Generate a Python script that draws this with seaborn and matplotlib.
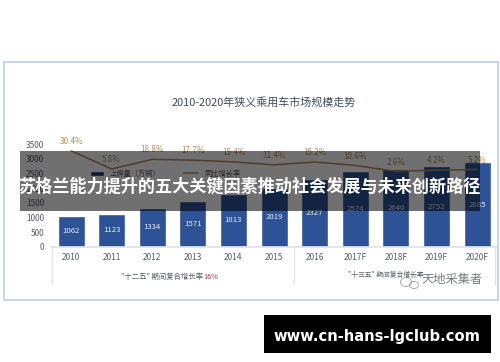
import matplotlib
matplotlib.use("Agg")
import matplotlib.pyplot as plt
from matplotlib.patches import Rectangle, Ellipse
from matplotlib.lines import Line2D
import numpy as np
import pandas as pd
import seaborn as sns

years = ["2010", "2011", "2012", "2013", "2014", "2015", "2016", "2017F", "2018F", "2019F", "2020F"]
volumes = [1062, 1123, 1334, 1571, 1813, 2019, 2327, 2574, 2640, 2752, 2885]
growth = [30.4, 5.8, 18.8, 17.7, 15.4, 11.4, 15.2, 10.6, 2.6, 4.2, 5.2]
y_ticks = [0, 500, 1000, 1500, 2000, 2500, 3000, 3500]

chart_title = "2010-2020年狭义乘用车市场规模走势"
overlay_title = "苏格兰能力提升的五大关键因素推动社会发展与未来创新路径"
site_url = "www.cn-hans-lgclub.com"
legend_labels = ["上牌量（万辆）", "同比增长率"]

sns.set_theme(style="white")
plt.rcParams["font.family"] = ["Noto Sans CJK SC", "DejaVu Sans"]

W, H = 500, 362
BLUE, LINE, GREY = "#2d5296", "#b98a5c", "#555b66"
fig = plt.figure(figsize=(W / 100, H / 100), dpi=100, facecolor="white")
fx = lambda p: p / W
fy = lambda p: 1 - p / H

def pixel_rect(x0, y0, x1, y1, **kw):
    r = Rectangle((fx(x0), fy(y1)), (x1 - x0) / W, (y1 - y0) / H, transform=fig.transFigure, **kw)
    fig.add_artist(r)
    return r

pixel_rect(3.5, 62, 498, 300, fc="white", ec="#c6d5e8", lw=1.4, zorder=-1)

ax = fig.add_axes([fx(52), fy(247), (497 - 52) / W, 103 / H])
ax.patch.set_alpha(0)
df = pd.DataFrame({"year": years, "volume": volumes})
sns.barplot(data=df, x="year", y="volume", color=BLUE, saturation=1, width=0.665, ax=ax)
ax.set_xlim(-0.468, 10.49)
ax.set_ylim(0, 3500)
ax.set_yticks(y_ticks)
ax.set_xlabel("")
ax.set_ylabel("")
ax.tick_params(axis="both", length=0)
ax.tick_params(axis="y", labelsize=6, labelcolor=GREY, pad=5.5)
ax.tick_params(axis="x", labelsize=6, labelcolor=GREY, pad=4)
for s in ["top", "right", "left"]:
    ax.spines[s].set_visible(False)
ax.spines["bottom"].set_color("#dfe2e6")
ax.bar_label(ax.containers[0], labels=[str(v) for v in volumes], label_type="center",
             color="#e8edf5", fontsize=5.6)

ax2 = ax.twinx()
ax2.patch.set_alpha(0)
sns.lineplot(x=np.arange(len(growth)), y=growth, color=LINE, lw=1.1, ax=ax2)
ax2.set_ylim(-99, 39.4)
ax2.axis("off")
for i, g in enumerate(growth):
    ax2.annotate(f"{g}%", (i, g), xytext=(0, 3.5), textcoords="offset points",
                 ha="center", va="bottom", fontsize=5.8, color=LINE)

ax.legend(handles=[Rectangle((0, 0), 1, 1, fc="#1d3a78"), Line2D([], [], color=LINE, lw=1.1)],
          labels=legend_labels, ncol=2, frameon=False, fontsize=5.2, labelcolor=GREY,
          loc="center", bbox_to_anchor=(fx(165), fy(174)), bbox_transform=fig.transFigure,
          columnspacing=3.2, handlelength=2, handleheight=0.8)

for x in [52, 293.5, 495]:
    fig.add_artist(Line2D([fx(x), fx(x)], [fy(247), fy(284)], color="#e2e4e8", lw=0.9,
                          transform=fig.transFigure))

fig.text(fx(264), fy(102.5), chart_title, ha="center", va="center", fontsize=7.9, color="#3f4a5c")
fig.text(fx(121), fy(277), "\"十二五\" 期间复合增长率", ha="left", va="center", fontsize=5.3, color=GREY)
fig.text(fx(203), fy(277), "16%", ha="left", va="center", fontsize=5.3, color="#b03a48")
fig.text(fx(348), fy(275), "\"十三五\" 期间复合增长率", ha="left", va="center", fontsize=4.9, color=GREY)
fig.text(fx(421), fy(280), "天地采集者", ha="left", va="center", fontsize=8.8, color="#777d85", zorder=6)
for cx, cy, w, h in [(406, 282, 11, 9), (414, 285, 9, 7)]:
    fig.add_artist(Ellipse((fx(cx), fy(cy)), w / W, h / H, fc="none", ec="#9a9fa6", lw=0.6,
                           transform=fig.transFigure))

pixel_rect(20, 151, 480, 211, fc="black", ec="none", alpha=0.56, zorder=10)
fig.text(fx(249), fy(186.5), overlay_title, ha="center", va="center", fontsize=12.32,
         fontweight="bold", color="white", zorder=11)

pixel_rect(264, 315, 491, 353, fc="black", ec="none", zorder=10)
fig.text(fx(377), fy(336), site_url, ha="center", va="center", fontsize=10.6,
         fontweight="bold", color="white", family="DejaVu Sans", zorder=11)

fig.savefig("out.png", dpi=100, facecolor="white")
